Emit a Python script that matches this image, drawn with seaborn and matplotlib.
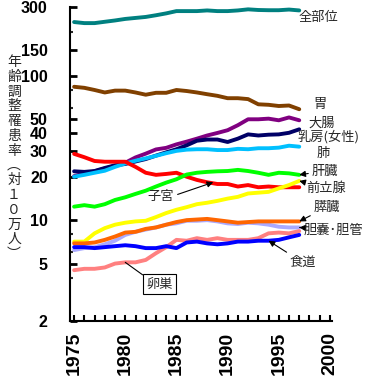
import numpy as np
import pandas as pd
import seaborn as sns
import matplotlib.pyplot as plt
from matplotlib.ticker import FixedLocator, NullFormatter

# data (age-adjusted incidence per 100k)
years = list(range(1975, 1998))
zenbui = [236, 232, 232, 237, 242, 248, 252, 256, 263, 271, 281, 281, 281, 284, 281, 281, 284, 289, 286, 285, 285, 288, 284]
stomach = [84, 82.6, 79.8, 76.7, 79, 79, 76.7, 74, 76.3, 76.3, 79.8, 78.5, 76.7, 74.6, 72.7, 70, 70, 69, 63.5, 63, 61.8, 62.3, 58.7]
colon = [20.2, 21.0, 21.8, 22.8, 23.8, 25.0, 27.2, 28.9, 30.9, 31.7, 33.5, 35, 36.7, 38.6, 40.2, 42, 45.5, 50, 50, 50.5, 49.2, 51.5, 49.2]
breast = [21.8, 21.6, 21.9, 23, 24, 24.5, 25.5, 26.5, 28, 29.5, 31, 33, 35.5, 36.2, 36.2, 34.8, 36.7, 39.3, 38.6, 39.1, 39.3, 40.3, 42.6]
lung = [20.0, 20.6, 21.3, 22, 23.4, 24.7, 25.8, 26.8, 27.9, 29.1, 30.2, 30.8, 31, 31, 30.6, 30.6, 31.2, 31, 31.5, 31.5, 31.8, 32.8, 32.3]
uterus = [28.8, 27.3, 25.7, 25.4, 25.4, 25.4, 23.4, 21.3, 20.6, 20.9, 21.3, 20, 19, 18.3, 17.8, 17.8, 17.1, 17.5, 16.9, 17.1, 16.9, 16.9, 16.9]
liver = [12.4, 12.7, 12.4, 12.9, 13.8, 14.4, 15.2, 16.0, 17.1, 18.2, 19.2, 20.7, 21.3, 21.6, 21.8, 21.9, 22.3, 21.9, 21.3, 20.6, 21.3, 21.1, 20.6]
prostate = [7.1, 7.1, 8.1, 8.8, 9.3, 9.6, 9.8, 9.9, 10.5, 11.2, 11.8, 12.3, 12.9, 13.2, 13.6, 14.1, 14.5, 15.3, 15.5, 15.7, 16.6, 17.5, 18.7]
pancreas = [6.9, 6.9, 7.0, 7.3, 7.7, 8.2, 8.3, 8.7, 8.9, 9.3, 9.7, 10.0, 10.1, 10.2, 10.0, 9.8, 9.6, 9.7, 9.8, 9.8, 9.8, 9.8, 9.8]
gallbladder = [6.2, 6.4, 6.5, 6.8, 7.2, 7.9, 8.3, 8.6, 8.9, 9.3, 9.5, 9.9, 9.9, 10.0, 9.8, 9.5, 9.4, 9.6, 9.5, 9.3, 9.0, 8.9, 8.9]
esophagus = [6.5, 6.5, 6.4, 6.5, 6.6, 6.7, 6.6, 6.4, 6.4, 6.6, 6.4, 7.0, 7.1, 6.9, 6.8, 6.9, 7.1, 7.1, 7.2, 7.2, 7.3, 7.6, 7.9]
ovary = [4.5, 4.6, 4.6, 4.7, 5.0, 5.1, 5.1, 5.3, 5.9, 6.5, 7.3, 7.2, 7.5, 7.3, 7.5, 7.3, 7.3, 7.3, 7.5, 8.1, 8.2, 8.1, 8.4]

sites = ['全部位', '胃', '大腸', '乳房(女性)', '肺', '子宮', '肝臓', '前立腺',
         '膵臓', '胆嚢･胆管', '食道', '卵巣']
series = [zenbui, stomach, colon, breast, lung, uterus, liver, prostate,
          pancreas, gallbladder, esophagus, ovary]
colors = ['#008080', '#804000', '#800080', '#000066', '#00C0FF', '#FF0000',
          '#00FF00', '#FFFF00', '#FF6600', '#AAAAFF', '#0000FF', '#FF8080']

yticks_major = [2, 5, 10, 20, 30, 40, 50, 100, 150, 300]
yticks_minor = [4, 6, 8, 60, 80, 200]

df = pd.concat([pd.DataFrame({'year': years, 'rate': s, 'site': n})
                for n, s in zip(sites, series)], ignore_index=True)
vals = dict(zip(sites, series))

sns.set_style('ticks')
plt.rcParams['font.family'] = ['Liberation Sans', 'Noto Sans CJK JP', 'DejaVu Sans']
jp = ['Noto Sans CJK JP', 'DejaVu Sans']

fig = plt.figure(figsize=(3.66, 3.77), dpi=100)
ax = fig.add_axes([70/366, 56/377, 262/366, 314/377])

# draw in order so that overlapping lines stack like the original
order = ['全部位', '胃', '大腸', '乳房(女性)', '肺', '子宮', '肝臓', '前立腺',
         '胆嚢･胆管', '膵臓', '卵巣', '食道']
sns.lineplot(data=df, x='year', y='rate', hue='site', hue_order=order,
             palette=dict(zip(sites, colors)), lw=2.8, legend=False, ax=ax)

ax.set_yscale('log')
ax.set_ylim(2, 300)
ax.set_xlim(1974.6, 2000.2)
ax.yaxis.set_major_locator(FixedLocator(yticks_major))
ax.yaxis.set_minor_locator(FixedLocator(yticks_minor))
ax.yaxis.set_minor_formatter(NullFormatter())
ax.set_yticklabels([str(v) for v in yticks_major])
ax.set_xticks(range(1975, 2001, 5))
ax.set_xticks(range(1975, 2001), minor=True)
ax.set_xlabel('')
ax.set_ylabel('')

for s in ['top', 'right']:
    ax.spines[s].set_visible(False)
for s in ['left', 'bottom']:
    ax.spines[s].set_linewidth(1.5)
    ax.spines[s].set_color('black')

ax.tick_params(axis='y', which='major', direction='in', length=5, width=2, pad=16,
               labelsize=11.5, colors='black')
ax.tick_params(axis='y', which='minor', direction='in', length=2.5, width=1.5)
ax.tick_params(axis='x', which='both', direction='in', length=4.5, width=1.5, pad=8,
               labelsize=14, labelrotation=90, colors='black')
for lab in ax.get_xticklabels() + ax.get_yticklabels():
    lab.set_fontweight('bold')

# plain labels at the right
plain = [('全部位', 1996.9, 252, 'left'), ('胃', 1999.0, 62.8, 'center'),
         ('大腸', 1999.2, 47.1, 'center'), ('乳房(女性)', 1996.8, 37.7, 'left'),
         ('肺', 1999.3, 29.2, 'center')]
for txt, x, y, ha in plain:
    ax.text(x, y, txt, ha=ha, va='center', fontsize=9.5, family=jp, clip_on=False)

arrow = dict(arrowstyle='-|>', color='black', lw=0.8, mutation_scale=9,
             shrinkA=0, shrinkB=0)
ends = [('肝臓', 1998.2, 21.9, 1997, '肝臓'),
        ('前立腺', 1997.65, 16.7, 1997, '前立腺'),
        ('膵臓', 1998.4, 12.3, 1997, '膵臓'),
        ('胆嚢･胆管', 1997.4, 8.55, 1997, '胆嚢･胆管')]
for txt, x, y, yr, key in ends:
    ax.annotate(txt, xy=(yr, vals[key][yr - 1975]), xytext=(x, y),
                ha='left', va='center', fontsize=9.5, family=jp,
                arrowprops=arrow, annotation_clip=False)

ax.annotate('食道', xy=(1994, vals['食道'][1994 - 1975]), xytext=(1997.3, 5.13),
            ha='center', va='center', fontsize=9.5, family=jp,
            arrowprops=dict(arrow, relpos=(0.1, 1.0)), annotation_clip=False)
ax.annotate('子宮', xy=(1988.6, vals['子宮'][1988 - 1975]), xytext=(1983.5, 14.5),
            ha='center', va='center', fontsize=9.5, family=jp,
            arrowprops=dict(arrow, relpos=(1.0, 0.6)), annotation_clip=False)
ax.annotate('卵巣', xy=(1980, vals['卵巣'][1980 - 1975]), xytext=(1983.35, 3.61),
            ha='center', va='center', fontsize=9.5, family=jp,
            bbox=dict(boxstyle='square,pad=0.25', fc='white', ec='black', lw=0.8),
            arrowprops=dict(arrowstyle='-', color='black', lw=0.8, relpos=(0, 1),
                            shrinkA=0, shrinkB=0),
            annotation_clip=False)

# vertical y label, one upright character per line
ylab = '年齢調整罹患率︵対１０万人︶'
fig.text(14/366, 1 - 158/377, '\n'.join(ylab), ha='center', va='center',
         fontsize=10, family=jp, linespacing=1.07)

fig.savefig('out.png', dpi=100)
